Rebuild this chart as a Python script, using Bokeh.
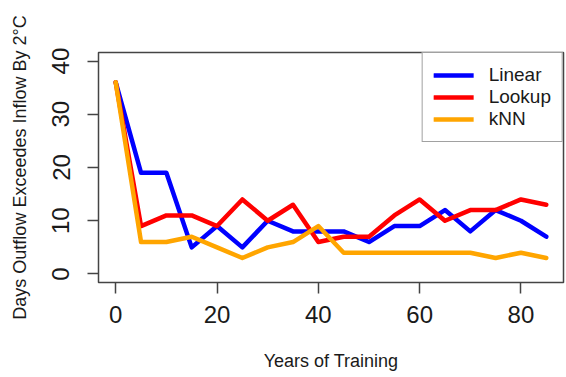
from bokeh.plotting import figure
from bokeh.models import FixedTicker, Range1d, Legend, LegendItem
from bokeh.embed import file_html
from bokeh.resources import INLINE

years = [0, 5, 10, 15, 20, 25, 30, 35, 40, 45, 50, 55, 60, 65, 70, 75, 80, 85]
linear = [36, 19, 19, 5, 9, 5, 10, 8, 8, 8, 6, 9, 9, 12, 8, 12, 10, 7]
lookup = [36, 9, 11, 11, 9, 14, 10, 13, 6, 7, 7, 11, 14, 10, 12, 12, 14, 13]
knn = [36, 6, 6, 7, 5, 3, 5, 6, 9, 4, 4, 4, 4, 4, 4, 3, 4, 3]
x_ticks = [0, 20, 40, 60, 80]
y_ticks = [0, 10, 20, 30, 40]

FONT = "Liberation Sans"

p = figure(width=566, height=377, output_backend="svg", toolbar_location=None,
           x_range=Range1d(-3.4, 88.4), y_range=Range1d(-1.6, 41.6),
           min_border_left=98, min_border_right=3, min_border_top=52, min_border_bottom=95)
p.xgrid.visible = False
p.ygrid.visible = False
p.outline_line_color = "#444444"
p.outline_line_width = 1.5
p.background_fill_color = "white"
p.border_fill_color = "white"

r1 = p.line(years, linear, line_color="#0000FF", line_width=4.5, line_join="round", line_cap="round")
r2 = p.line(years, lookup, line_color="#FF0000", line_width=4.5, line_join="round", line_cap="round")
r3 = p.line(years, knn, line_color="#FFA500", line_width=4.5, line_join="round", line_cap="round")

for ax in (p.xaxis[0], p.yaxis[0]):
    ax.axis_line_color = None
    ax.major_tick_out = 11
    ax.major_tick_in = 0
    ax.minor_tick_out = 0
    ax.minor_tick_in = 0
    ax.major_tick_line_color = "#444444"
    ax.major_tick_line_width = 1.5
    ax.major_label_text_font = FONT
    ax.major_label_text_font_size = "24px"
    ax.major_label_text_color = "#1a1a1a"
    ax.axis_label_text_font = FONT
    ax.axis_label_text_font_size = "18px"
    ax.axis_label_text_font_style = "normal"
    ax.axis_label_text_color = "#1a1a1a"

p.xaxis.ticker = FixedTicker(ticks=x_ticks)
p.yaxis.ticker = FixedTicker(ticks=y_ticks)
p.xaxis.axis_label = "Years of Training"
p.yaxis.axis_label = "Days Outflow Exceedes Inflow By 2°C"
p.xaxis.major_label_standoff = 12
p.yaxis.major_label_standoff = 18
p.yaxis.major_label_orientation = "vertical"
p.xaxis.axis_label_standoff = 25
p.yaxis.axis_label_standoff = 20

legend = Legend(items=[LegendItem(label="Linear", renderers=[r1]),
                       LegendItem(label="Lookup", renderers=[r2]),
                       LegendItem(label="kNN", renderers=[r3])],
                location="top_right", margin=0, padding=11, spacing=0,
                glyph_width=40, glyph_height=22, label_height=22, label_standoff=15,
                label_text_font=FONT, label_text_font_size="19px", label_text_color="#1a1a1a",
                border_line_color="#444444", border_line_width=1.5,
                background_fill_color="white", background_fill_alpha=1)
p.add_layout(legend)

open("out.html", "w").write(file_html(p, INLINE))
